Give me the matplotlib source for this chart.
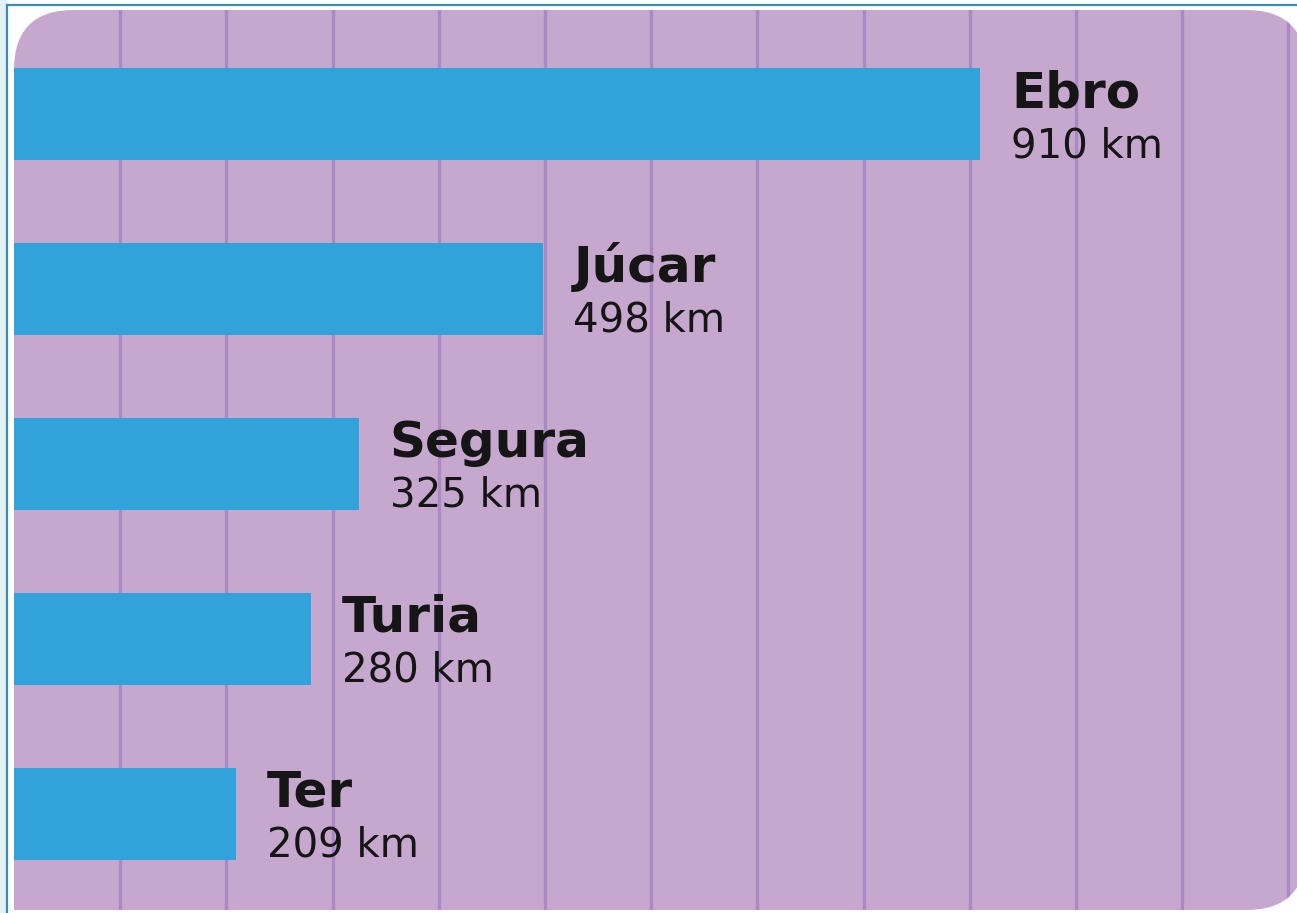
import matplotlib.pyplot as plt
from matplotlib.patches import FancyBboxPatch, Rectangle

# river lengths (km)
rivers = ['Ebro', 'Júcar', 'Segura', 'Turia', 'Ter']
lengths = [910, 498, 325, 280, 209]
value_labels = ['910 km', '498 km', '325 km', '280 km', '209 km']
grid_ticks = [100, 200, 300, 400, 500, 600, 700, 800, 900, 1000, 1100, 1200]

panel_col = '#C6A8CF'
grid_col = '#A98AC4'
bar_col = '#31A2DA'
text_col = '#151515'

W, H = 1297, 913
fig = plt.figure(figsize=(W / 100, H / 100), dpi=100)
fig.patch.set_facecolor('white')

# background layer in pixel units: frame + rounded purple panel
bg = fig.add_axes([0, 0, 1, 1])
bg.set_xlim(0, W)
bg.set_ylim(H, 0)
bg.axis('off')
bg.add_patch(Rectangle((0, 0), 7, H, color='#E3F1F5', lw=0))
bg.plot([7, W], [5, 5], color='#3E8DB0', lw=1.6)
bg.plot([7, 7], [5, H], color='#3E8DB0', lw=1.6)
panel = FancyBboxPatch((14, 10), 1292, 900,
                       boxstyle='round,pad=0,rounding_size=60',
                       facecolor=panel_col, edgecolor='none')
bg.add_patch(panel)
bg.add_patch(Rectangle((14, 800), 100, 110, color=panel_col, lw=0))

# main chart
ax = fig.add_axes([14 / W, 3 / H, 1283 / W, 900 / H])
ax.patch.set_alpha(0)
ax.set_xlim(0, 1283 / 1.062)
ax.set_ylim(4.549, -0.594)
for s in ax.spines.values():
    s.set_visible(False)
ax.set_xticks(grid_ticks)
ax.set_yticks([])
ax.tick_params(length=0, labelbottom=False)
ax.grid(axis='x', color=grid_col, lw=2.4)
ax.set_axisbelow(True)
for gl in ax.get_xgridlines():
    gl.set_clip_path(panel)

ypos = list(range(len(rivers)))
ax.barh(ypos, lengths, height=0.53, color=bar_col, zorder=3)

for y, v, name, lab in zip(ypos, lengths, rivers, value_labels):
    ax.annotate(name, xy=(v, y), xytext=(22, 5), textcoords='offset points',
                fontsize=36, fontweight='bold', family='DejaVu Sans',
                color=text_col, va='baseline', ha='left')
    ax.annotate(lab, xy=(v, y), xytext=(22, -31), textcoords='offset points',
                fontsize=29, family='DejaVu Sans', color=text_col,
                va='baseline', ha='left')

fig.savefig('out.png', dpi=100)
